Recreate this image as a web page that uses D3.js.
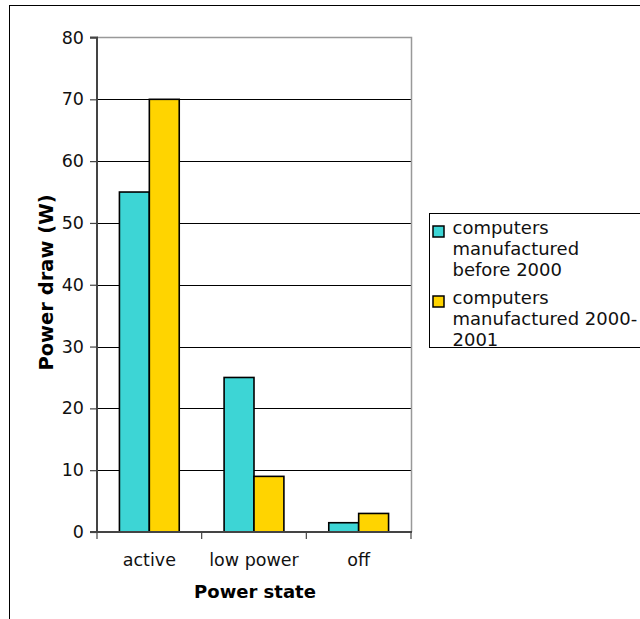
<!DOCTYPE html>
<html>
<head>
<meta charset="utf-8">
<script src="https://cdn.jsdelivr.net/npm/d3@7"></script>
<style>
  html, body { margin: 0; padding: 0; background: #fff; }
  svg { display: block; font-family: "DejaVu Sans", Verdana, sans-serif; }
</style>
</head>
<body>
<svg id="chart" width="640" height="619"></svg>
<script>
// Power draw by power state, two generations of computers
const categories = ["active", "low power", "off"];
const seriesNames = ["computers manufactured before 2000", "computers manufactured 2000-2001"];
const legendLines = [["computers", "manufactured", "before 2000"], ["computers", "manufactured 2000-", "2001"]];
const before2000 = [55, 25, 1.5];
const from2000to2001 = [70, 9, 3];
const yTicks = [0, 10, 20, 30, 40, 50, 60, 70, 80];
const colors = ["#3dd5d5", "#ffd400"];

const series = [before2000, from2000to2001];
const svg = d3.select("#chart");
const FONT = "DejaVu Sans, Verdana, sans-serif";

// outer frame
svg.append("rect")
  .attr("x", 9.5).attr("y", 5.5).attr("width", 700).attr("height", 700)
  .attr("fill", "none").attr("stroke", "#000").attr("stroke-width", 1);

const plot = { left: 97, right: 411, top: 37.5, bottom: 532 };

const x = d3.scaleBand().domain(categories).range([plot.left, plot.right]);
const xInner = d3.scaleBand().domain(d3.range(series.length))
  .range([0, x.bandwidth()]).paddingOuter(0.75).paddingInner(0);
const y = d3.scaleLinear().domain([0, 80]).range([plot.bottom, plot.top]);

// gridlines
svg.append("g").selectAll("line").data(yTicks.filter(d => d > 0 && d < 80)).join("line")
  .attr("x1", plot.left).attr("x2", plot.right)
  .attr("y1", d => Math.round(y(d)) + 0.5).attr("y2", d => Math.round(y(d)) + 0.5)
  .attr("stroke", "#000").attr("stroke-width", 1);

// plot frame top/right
svg.append("path")
  .attr("d", `M${plot.left},${plot.top}H${plot.right + 0.5}V${plot.bottom}`)
  .attr("fill", "none").attr("stroke", "#999").attr("stroke-width", 1.5);

// bars
const groups = svg.append("g").selectAll("g").data(series).join("g")
  .attr("fill", (d, i) => colors[i]);
groups.each(function(vals, si) {
  d3.select(this).selectAll("rect").data(vals).join("rect")
    .attr("x", (v, ci) => x(categories[ci]) + xInner(si))
    .attr("width", xInner.bandwidth())
    .attr("y", v => y(v))
    .attr("height", v => y(0) - y(v))
    .attr("stroke", "#000").attr("stroke-width", 1.6);
});

// y axis
const yAxis = d3.axisLeft(y).tickValues(yTicks).tickSize(7).tickPadding(6).tickFormat(d3.format("d"));
const gy = svg.append("g").attr("transform", `translate(${plot.left},0)`).call(yAxis);
gy.select(".domain").attr("stroke", "#444").attr("stroke-width", 2).attr("d", `M-7,${plot.top}H0V${plot.bottom}`);
gy.selectAll(".tick line").attr("stroke", "#444").attr("stroke-width", 1.2);
gy.selectAll(".tick text").attr("font-size", 17.5).attr("fill", "#111").attr("font-family", FONT);

// x axis
const xAxis = d3.axisBottom(x).tickSize(0).tickPadding(21.5);
const gx = svg.append("g").attr("transform", `translate(0,${plot.bottom})`).call(xAxis);
gx.select(".domain").attr("stroke", "#444").attr("stroke-width", 2)
  .attr("d", `M${plot.left - 7},0H${plot.right + 1}`);
gx.selectAll(".tick text").attr("font-size", 17.5).attr("fill", "#111").attr("font-family", FONT);
// category separators
gx.append("g").selectAll("line").data(categories.concat([null])).join("line")
  .attr("x1", (d, i) => i < categories.length ? x(d) : plot.right)
  .attr("x2", (d, i) => i < categories.length ? x(d) : plot.right)
  .attr("y1", 0).attr("y2", 7)
  .attr("stroke", "#444").attr("stroke-width", 1.2);

// axis titles
svg.append("text").attr("x", 255).attr("y", 598)
  .attr("text-anchor", "middle").attr("font-size", 18).attr("font-weight", "bold")
  .text("Power state");
svg.append("text")
  .attr("transform", `translate(53,282.5) rotate(-90)`)
  .attr("text-anchor", "middle").attr("font-size", 19.5).attr("font-weight", "bold")
  .text("Power draw (W)");

// legend
const legend = svg.append("g");
legend.append("rect").attr("x", 429.5).attr("y", 213.5).attr("width", 300).attr("height", 134)
  .attr("fill", "#fff").attr("stroke", "#000").attr("stroke-width", 1);
const lineH = 21;
const entryBase = [233.5, 303.5];
seriesNames.forEach((name, i) => {
  const e = legend.append("g");
  e.append("rect").attr("x", 433).attr("y", entryBase[i] - 7.5).attr("width", 11).attr("height", 11)
    .attr("fill", colors[i]).attr("stroke", "#000").attr("stroke-width", 1.5);
  const t = e.append("text").attr("font-size", 18).attr("fill", "#111");
  legendLines[i].forEach((ln, j) => {
    t.append("tspan").attr("x", 452.5).attr("y", entryBase[i] + j * lineH).text(ln);
  });
});
</script>
</body>
</html>
